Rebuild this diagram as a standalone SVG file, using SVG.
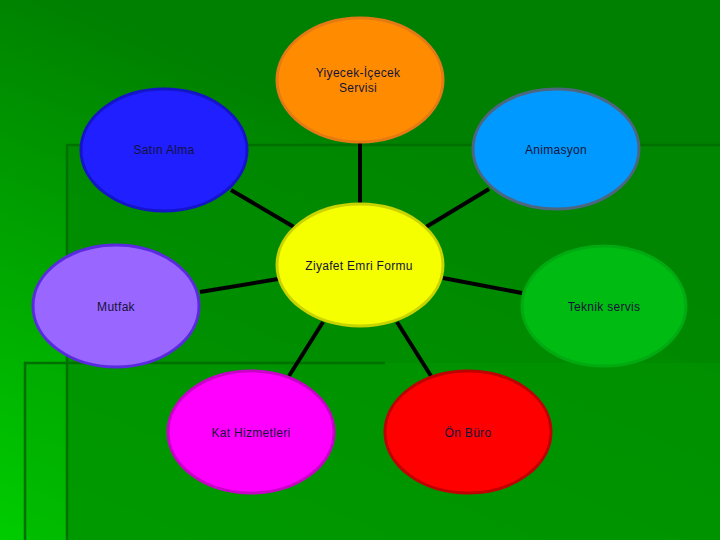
<svg xmlns="http://www.w3.org/2000/svg" width="720" height="540" viewBox="0 0 720 540">
<defs>
<linearGradient id="bg" x1="0" y1="1" x2="0.45" y2="0.2">
<stop offset="0" stop-color="#00cc00"/>
<stop offset="1" stop-color="#008000"/>
</linearGradient>
<style>
.n ellipse{stroke-width:3}
.n text{font-family:"Liberation Sans",Arial,sans-serif;font-size:12px;fill:#14143a;text-anchor:middle;letter-spacing:0.3px}
.c line{stroke:#000;stroke-width:4}
.edge{stroke:#007000;stroke-width:2.5;fill:none}
</style>
</defs>
<rect width="720" height="540" fill="url(#bg)"/>
<rect x="67" y="145" width="653" height="395" fill="#008800" opacity="0.75"/>
<rect x="25" y="363" width="695" height="177" fill="#00a000" opacity="0.3"/>
<path class="edge" d="M67,540 V145 H720"/>
<path class="edge" d="M25,540 V363 H385"/>
<g class="c" id="connectors">
<line x1="360" y1="142" x2="360" y2="204"/>
<line x1="231" y1="190" x2="294" y2="227"/>
<line x1="489" y1="189" x2="426" y2="227"/>
<line x1="200" y1="292" x2="278" y2="279"/>
<line x1="443" y1="278" x2="522" y2="293"/>
<line x1="323" y1="322" x2="289" y2="376"/>
<line x1="397" y1="322" x2="431" y2="376"/>
</g>
<g class="n" id="yiyecek">
<ellipse cx="360" cy="80" rx="83" ry="62" fill="#ff8c00" stroke="#e57a14"/>
<text x="358" y="77">Yiyecek-İçecek</text>
<text x="358" y="92">Servisi</text>
</g>
<g class="n" id="satin">
<ellipse cx="164" cy="150" rx="83" ry="61" fill="#1f1fff" stroke="#1414c8"/>
<text x="164" y="154">Satın Alma</text>
</g>
<g class="n" id="animasyon">
<ellipse cx="556" cy="149" rx="83" ry="60" fill="#0099ff" stroke="#4d6680"/>
<text x="556" y="154">Animasyon</text>
</g>
<g class="n" id="ziyafet">
<ellipse cx="360" cy="265" rx="83" ry="61" fill="#f5ff00" stroke="#c8d400"/>
<text x="359" y="270">Ziyafet Emri Formu</text>
</g>
<g class="n" id="mutfak">
<ellipse cx="116" cy="306" rx="83" ry="61" fill="#9966ff" stroke="#5a2ae0"/>
<text x="116" y="311">Mutfak</text>
</g>
<g class="n" id="teknik">
<ellipse cx="604" cy="306" rx="82" ry="60" fill="#00bb11" stroke="#00aa10"/>
<text x="604" y="311">Teknik servis</text>
</g>
<g class="n" id="kat">
<ellipse cx="251" cy="432" rx="83" ry="61" fill="#ff00ff" stroke="#c800c8"/>
<text x="251" y="437">Kat Hizmetleri</text>
</g>
<g class="n" id="onburo">
<ellipse cx="468" cy="432" rx="83" ry="61" fill="#ff0000" stroke="#c00000"/>
<text x="468" y="437">Ön Büro</text>
</g>
</svg>
